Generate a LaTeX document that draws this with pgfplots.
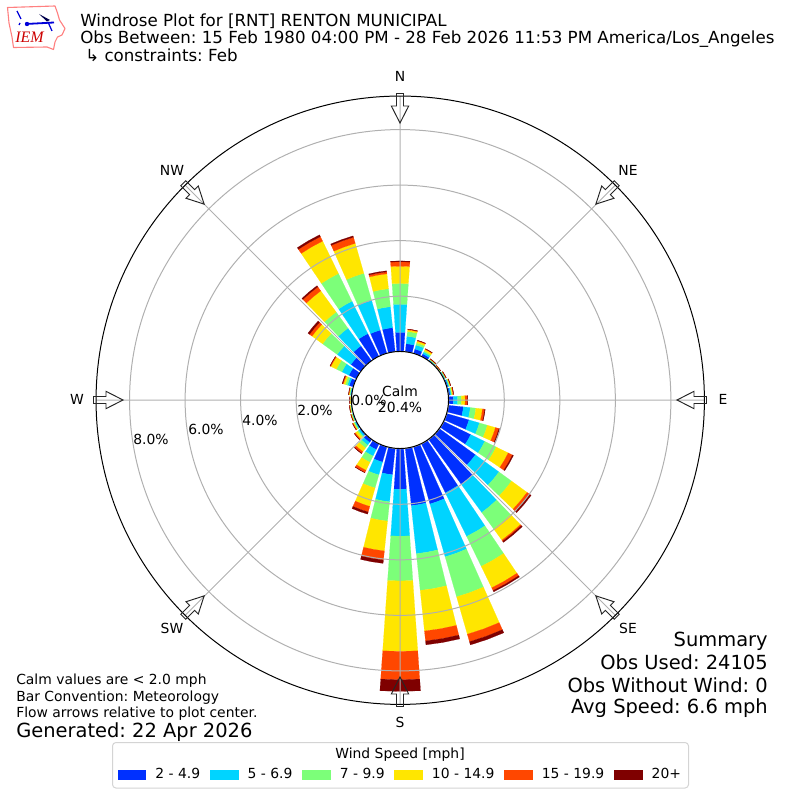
\documentclass[border=0pt]{standalone}
\usepackage{fontspec}
\setmainfont{DejaVu Sans}
\newfontfamily\logofont{Liberation Serif}
\usepackage{pgfplots}
\pgfplotsset{compat=1.18}
\usepgfplotslibrary{polar}
\frenchspacing
\definecolor{c1}{RGB}{0,48,255}
\definecolor{c2}{RGB}{0,212,255}
\definecolor{c3}{RGB}{124,255,121}
\definecolor{c4}{RGB}{255,230,0}
\definecolor{c5}{RGB}{255,71,0}
\definecolor{c6}{RGB}{127,0,0}
\newcommand{\fs}[1]{\fontsize{#1bp}{#1bp}\selectfont}
\def\rzero{1.748}
\newcommand{\seg}[4]{%
  \pgfmathsetmacro\xa{90-#1-4}\pgfmathsetmacro\xm{90-#1}\pgfmathsetmacro\xb{90-#1+4}%
  \pgfmathsetmacro\ra{#2+\rzero}\pgfmathsetmacro\rb{#3+\rzero}%
  \edef\temp{\noexpand\addplot[forget plot,line width=0.1pt,fill=#4,draw=#4] coordinates {(\xa,\ra)(\xa,\rb)(\xm,\rb)(\xb,\rb)(\xb,\ra)(\xm,\ra)} -- cycle;}\temp}
\newcommand{\windbar}[7]{\seg{#1}{0}{#2}{c1}\seg{#1}{#2}{#3}{c2}\seg{#1}{#3}{#4}{c3}\seg{#1}{#4}{#5}{c4}\seg{#1}{#5}{#6}{c5}\seg{#1}{#6}{#7}{c6}}
\newcommand{\compassarrow}[1]{\draw[shift={(400,400)},rotate=-#1,draw=black!85,line width=0.7pt,line join=miter]
  (-3.5,-306.5)--(3.5,-306.5)--(3.5,-294)--(8.7,-294)--(0,-277)--(-8.7,-294)--(-3.5,-294)--cycle;}
\begin{document}
\begin{tikzpicture}
\begin{scope}[x=0.01in,y=-0.01in]
\path (0,0) rectangle (800,800);
% legend frame
\draw[draw=black!17,fill=white,line width=0.72pt,rounded corners=2.5pt] (112.5,742.5) rectangle (688.5,788);
\node[font=\fs{10}] at (400,754.5) {Wind Speed [mph]};
\end{scope}
\begin{polaraxis}[
  at={(4in,-4in)},anchor=center,
  scale only axis,width=6.08in,height=6.08in,
  xmin=0,xmax=360,ymin=0,ymax=10.955,
  xtick={0,45,90,135,180,225,270,315},
  xticklabels={},
  ytick={1.748,3.748,5.748,7.748,9.748},
  yticklabels={},
  grid=major,
  major grid style={draw=black!31,line width=0.72pt},
  major tick length=0pt,
  axis line style={black,line width=0.72pt},
  y axis line style={draw=none},
  axis on top,
  clip=false,
  legend columns=6,
  legend style={at={(axis description cs:0.4985,-0.1158)},anchor=center,draw=none,fill=none,
    inner sep=0pt,column sep=0.095in,nodes={inner sep=0pt,font=\fs{10}}},
]
\addlegendimage{legend image code/.code={\fill[c1] (0in,-0.0485in) rectangle (0.278in,0.0485in);}}
\addlegendentry{2 - 4.9}
\addlegendimage{legend image code/.code={\fill[c2] (0in,-0.0485in) rectangle (0.278in,0.0485in);}}
\addlegendentry{5 - 6.9}
\addlegendimage{legend image code/.code={\fill[c3] (0in,-0.0485in) rectangle (0.278in,0.0485in);}}
\addlegendentry{7 - 9.9}
\addlegendimage{legend image code/.code={\fill[c4] (0in,-0.0485in) rectangle (0.278in,0.0485in);}}
\addlegendentry{10 - 14.9}
\addlegendimage{legend image code/.code={\fill[c5] (0in,-0.0485in) rectangle (0.278in,0.0485in);}}
\addlegendentry{15 - 19.9}
\addlegendimage{legend image code/.code={\fill[c6] (0in,-0.0485in) rectangle (0.278in,0.0485in);}}
\addlegendentry{20+}
% direction, then cumulative percent at the top of each speed class
\windbar{10}{0.30}{0.57}{0.74}{0.80}{0.82}{0.83}
\windbar{20}{0.17}{0.32}{0.40}{0.47}{0.49}{0.50}
\windbar{30}{0.11}{0.18}{0.23}{0.29}{0.31}{0.32}
\windbar{40}{0.04}{0.05}{0.07}{0.08}{0.09}{0.10}
\windbar{50}{0.02}{0.03}{0.04}{0.05}{0.055}{0.06}
\windbar{60}{0.03}{0.05}{0.07}{0.08}{0.09}{0.10}
\windbar{70}{0.05}{0.08}{0.11}{0.13}{0.14}{0.15}
\windbar{80}{0.06}{0.10}{0.13}{0.16}{0.18}{0.19}
\windbar{90}{0.17}{0.32}{0.46}{0.59}{0.67}{0.68}
\windbar{100}{0.54}{0.79}{0.99}{1.23}{1.31}{1.33}
\windbar{110}{0.83}{1.22}{1.52}{1.82}{1.95}{1.98}
\windbar{120}{1.08}{1.64}{2.10}{2.58}{2.75}{2.79}
\windbar{130}{1.60}{2.65}{3.21}{3.90}{4.00}{4.08}
\windbar{140}{1.99}{3.25}{3.98}{4.48}{4.53}{4.58}
\windbar{150}{1.96}{3.71}{4.91}{5.77}{5.88}{5.93}
\windbar{160}{2.14}{4.12}{5.62}{7.02}{7.30}{7.42}
\windbar{170}{2.07}{3.81}{5.14}{6.61}{6.97}{7.11}
\windbar{180}{1.46}{3.15}{4.76}{7.30}{8.32}{8.74}
\windbar{190}{0.95}{1.93}{2.63}{3.71}{4.04}{4.16}
\windbar{200}{0.57}{1.05}{1.54}{2.23}{2.44}{2.52}
\windbar{210}{0.23}{0.49}{0.74}{1.06}{1.15}{1.16}
\windbar{220}{0.13}{0.25}{0.38}{0.54}{0.61}{0.63}
\windbar{230}{0.05}{0.11}{0.16}{0.25}{0.29}{0.30}
\windbar{240}{0.04}{0.07}{0.11}{0.14}{0.16}{0.17}
\windbar{250}{0.03}{0.05}{0.07}{0.09}{0.10}{0.11}
\windbar{260}{0.03}{0.04}{0.06}{0.08}{0.09}{0.10}
\windbar{270}{0.02}{0.03}{0.05}{0.06}{0.07}{0.08}
\windbar{280}{0.04}{0.06}{0.09}{0.11}{0.12}{0.13}
\windbar{290}{0.16}{0.23}{0.31}{0.38}{0.41}{0.43}
\windbar{300}{0.31}{0.59}{0.81}{1.03}{1.06}{1.07}
\windbar{310}{0.45}{1.06}{1.71}{2.18}{2.29}{2.36}
\windbar{320}{0.67}{1.46}{2.18}{3.12}{3.30}{3.35}
\windbar{330}{0.92}{2.22}{3.33}{4.63}{4.81}{4.88}
\windbar{340}{0.88}{2.00}{3.01}{4.13}{4.36}{4.41}
\windbar{350}{0.88}{1.64}{2.29}{2.83}{2.90}{2.94}
\windbar{360}{0.70}{1.71}{2.46}{3.08}{3.24}{3.27}
\end{polaraxis}
\begin{scope}[x=0.01in,y=-0.01in]
% calm circle
\draw[black,line width=0.72pt,fill=white] (400,400) circle [radius=0.485in];
\node[font=\fs{10},align=center,inner sep=0pt] at (400,399) {Calm\\[1.5pt]20.4\%};
% compass arrows
\compassarrow{0}\compassarrow{45}\compassarrow{90}\compassarrow{135}
\compassarrow{180}\compassarrow{225}\compassarrow{270}\compassarrow{315}
% compass labels
\foreach \lx/\ly/\lt in {400/76/N,628/170/NE,723/399/E,628/628/SE,400/722/S,172/628/SW,77/399/W,172/170/NW}
  \node[font=\fs{10},inner sep=0pt] at (\lx,\ly) {\lt};
% radial labels
\foreach \lx/\ly/\lt in {369/400/0.0,315/410/2.0,260/420/4.0,206/429/6.0,151/439/8.0}
  \node[font=\fs{10},inner sep=0pt] at (\lx,\ly) {\lt\%};
% titles
\node[anchor=base west,inner sep=0pt,font=\fs{12}] at (80,26.5) {Windrose Plot for [RNT] RENTON MUNICIPAL};
\node[anchor=base west,inner sep=0pt,font=\fs{12}] at (80,44) {Obs Between: 15 Feb 1980 04:00 PM - 28 Feb 2026 11:53 PM America/Los\_Angeles};
\node[anchor=base west,inner sep=0pt,font=\fs{12}] at (85,61.5) {↳ constraints: Feb};
% summary
\node[anchor=base east,inner sep=0pt,font=\fs{14}] at (768,646) {Summary};
\node[anchor=base east,inner sep=0pt,font=\fs{14}] at (768,669) {Obs Used: 24105};
\node[anchor=base east,inner sep=0pt,font=\fs{14}] at (768,692) {Obs Without Wind: 0};
\node[anchor=base east,inner sep=0pt,font=\fs{14}] at (768,713) {Avg Speed: 6.6 mph};
% notes
\node[anchor=base west,inner sep=0pt,font=\fs{10}] at (16,684.5) {Calm values are < 2.0 mph};
\node[anchor=base west,inner sep=0pt,font=\fs{10}] at (16,701) {Bar Convention: Meteorology};
\node[anchor=base west,inner sep=0pt,font=\fs{10}] at (16,717) {Flow arrows relative to plot center.};
\node[anchor=base west,inner sep=0pt,font=\fs{14}] at (16,737) {Generated: 22 Apr 2026};
% logo
\draw[draw=red!50!white,line width=0.8pt,line join=round]
  (7.5,7.5)--(55,6)--(57.5,13)--(59.5,20)--(65,28.5)--(62,35)--(57.5,37)--(55,42)--(53.5,49.5)--(47,47)--(13.5,47.5)--(12,37)--(9,23)--cycle;
\draw[blue!85!black,line width=1.3pt] (26,24)--(54,22.5);
\fill[blue!85!black] (27,24) circle [radius=0.022in];
\draw[blue!85!black,line width=0.9pt] (17,11)--(21,19);
\draw[blue!85!black,line width=0.9pt] (20,23)--(19,25);
\fill[black!70!blue] (39,14)--(50,20)--(47,21.5)--cycle;
\draw[blue!85!black,line width=0.9pt] (48,22)--(52,31);
\node[font=\logofont\itshape\fs{11.5},text=red!80!black,inner sep=0pt] at (29.5,37.5) {IEM};
\end{scope}
\end{tikzpicture}
\end{document}
